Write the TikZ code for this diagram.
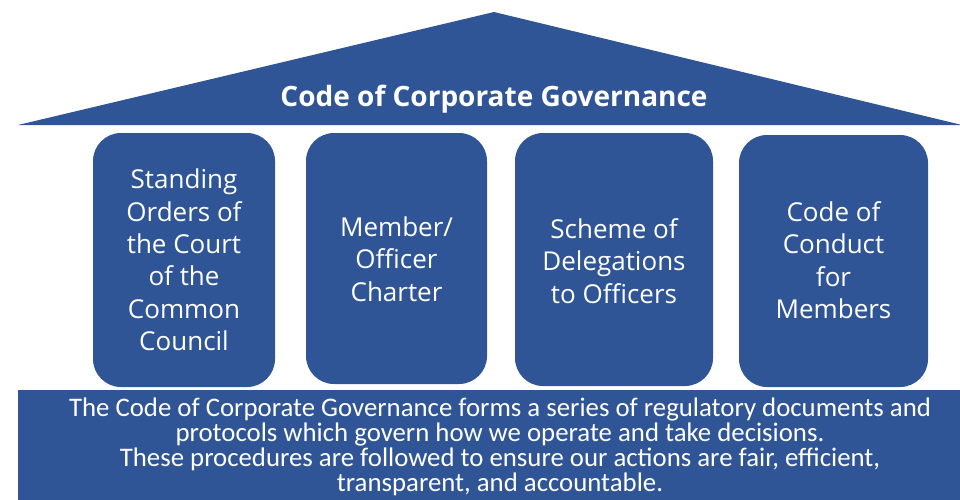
\documentclass[tikz,border=0pt]{standalone}
\usepackage{fontspec}
\setmainfont{Open Sans}
\newfontfamily\carlito{Carlito}
\definecolor{govblue}{RGB}{47,85,151}
\begin{document}
\begin{tikzpicture}[x=1pt,y=-1pt,
  pillar/.style={fill=govblue, rounded corners=28pt, text=white, align=center,
    font=\fontsize{26}{32.4}\selectfont, inner sep=0pt},
  titletext/.style={text=white, font=\bfseries\fontsize{28}{32}\selectfont, inner sep=0pt},
  basetext/.style={text=white, align=center, font=\carlito\fontsize{26.8}{25}\selectfont, inner sep=0pt}]
\useasboundingbox (0,0) rectangle (960,499);
% roof
\fill[govblue] (18,125) -- (494,12) -- (962,125) -- cycle;
\node[titletext] (title) at (494,99) {Code of Corporate Governance};
% pillars
\path[pillar] (93,133) rectangle (275,387);
\node[pillar] (p1) at (184,260) {Standing\\Orders of\\the Court\\of the\\Common\\Council};
\path[pillar] (306,133) rectangle (487,384);
\node[pillar] (p2) at (396.5,259) {Member/\\Officer\\Charter};
\path[pillar] (515,133) rectangle (713,386);
\node[pillar] (p3) at (614,261) {Scheme of\\Delegations\\to Officers};
\path[pillar] (739,135) rectangle (928,387);
\node[pillar] (p4) at (833.5,260) {Code of\\Conduct\\for\\Members};
% base
\fill[govblue] (18,390) rectangle (962,501);
\node[basetext] (base) at (500,447) {The Code of Corporate Governance forms a series of regulatory documents and\\protocols which govern how we operate and take decisions.\\These procedures are followed to ensure our actions are fair, efficient,\\transparent, and accountable.};
\end{tikzpicture}
\end{document}
